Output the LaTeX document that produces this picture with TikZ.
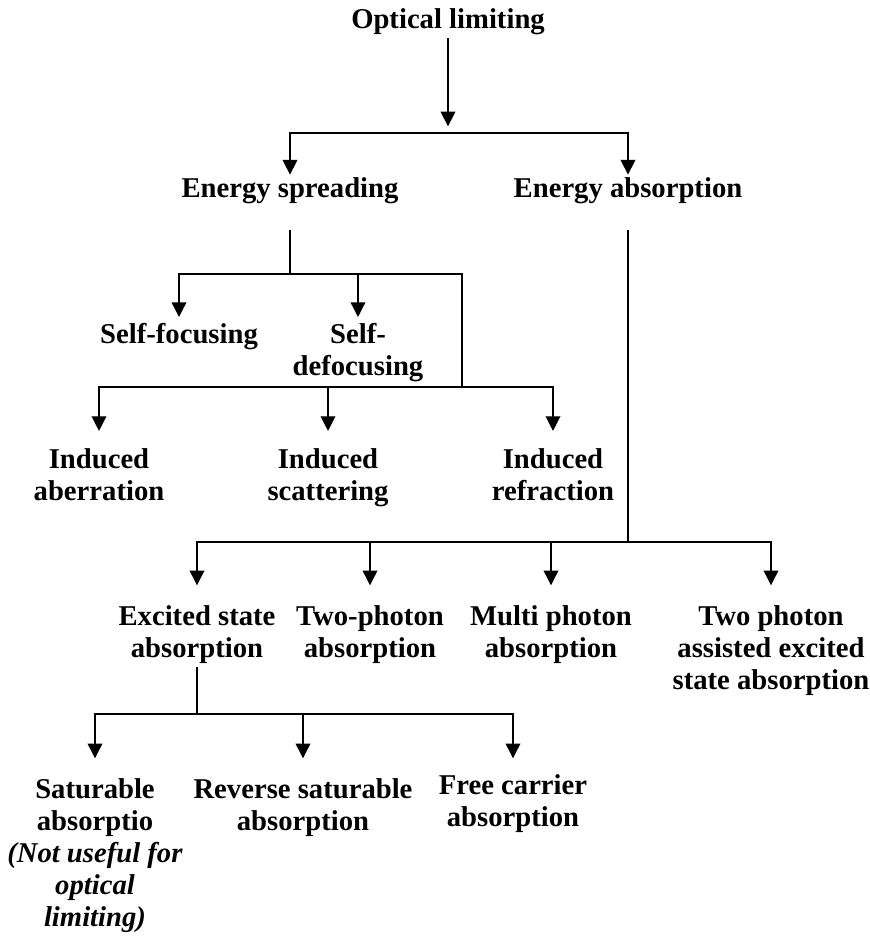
\documentclass[tikz,border=0pt]{standalone}
\usepackage{fontspec}
\setmainfont{Liberation Serif}
\usetikzlibrary{arrows.meta}

\begin{document}
\begin{tikzpicture}[
    x=0.75pt, y=-0.75pt,
    term/.style = {font=\fontsize{21.5}{24}\selectfont\bfseries, align=center, inner sep=0pt, anchor=north},
    arrow/.style = {-{Triangle[width=11pt, length=11pt]}, line width=1pt},
    link/.style = {line width=1pt}
]
\useasboundingbox (0,0) rectangle (869,943);

% Nodes - top
\node (optlim) [term] at (448, 5.6) {\strut Optical limiting\strut};
\node (spread) [term] at (290, 174.6) {\strut Energy spreading\strut};
\node (absorb) [term] at (628, 174.6) {\strut Energy absorption\strut};

% Nodes - energy spreading
\node (selffoc) [term] at (179, 320.6) {\strut Self-focusing};
\node (selfdef) [term] at (358, 320.6) {\strut Self-\\defocusing};
\node (aberr) [term] at (99, 445.6) {\strut Induced\\aberration};
\node (scatt) [term] at (328, 445.6) {\strut Induced\\scattering};
\node (refr) [term] at (553, 445.6) {\strut Induced\\refraction};

% Nodes - energy absorption
\node (esa) [term] at (197, 602.6) {\strut Excited state\\absorption\strut};
\node (tpa) [term] at (370, 602.6) {\strut Two-photon\\absorption};
\node (mpa) [term] at (551, 602.6) {\strut Multi photon\\absorption};
\node (tpaesa) [term] at (771, 602.6) {\strut Two photon\\assisted excited\\state absorption};

% Nodes - excited state absorption
\node (sat) [term] at (95, 775.6) {\strut Saturable\\absorptio\\\textit{(Not useful for}\\\textit{optical}\\\textit{limiting)}};
\node (rsa) [term] at (303, 775.6) {\strut Reverse saturable\\absorption};
\node (fca) [term] at (513, 771.6) {\strut Free carrier\\absorption};

% Junctions
\coordinate (j1) at (448, 133);
\coordinate (j2) at (290, 274);
\coordinate (j3) at (462, 387);
\coordinate (j4) at (628, 542);
\coordinate (j5) at (197, 714);

% Arrows - first split
\draw [arrow, shorten >=5pt] (optlim) -- (j1);
\draw [arrow] (j1) -| (spread);
\draw [arrow] (j1) -| (absorb);

% Arrows - energy spreading
\draw [link, shorten <=16.8pt] (spread) -- (j2);
\draw [arrow, shorten >=2.7pt] (j2) -| (selffoc);
\draw [arrow, shorten >=2.7pt] (j2) -| (selfdef);
\draw [link] (j2) -| (j3);
\draw [arrow, shorten >=11pt] (j3) -| (aberr);
\draw [arrow, shorten >=11pt] (j3) -| (scatt);
\draw [arrow, shorten >=11pt] (j3) -| (refr);

% Arrows - energy absorption
\draw [link, shorten <=16.8pt] (absorb) -- (j4);
\draw [arrow, shorten >=13pt] (j4) -| (esa);
\draw [arrow, shorten >=13pt] (j4) -| (tpa);
\draw [arrow, shorten >=13pt] (j4) -| (mpa);
\draw [arrow, shorten >=13pt] (j4) -| (tpaesa);

% Arrows - excited state absorption
\draw [link] (esa) -- (j5);
\draw [arrow, shorten >=13pt] (j5) -| (sat);
\draw [arrow, shorten >=13pt] (j5) -| (rsa);
\draw [arrow, shorten >=10pt] (j5) -| (fca);

\end{tikzpicture}
\end{document}
